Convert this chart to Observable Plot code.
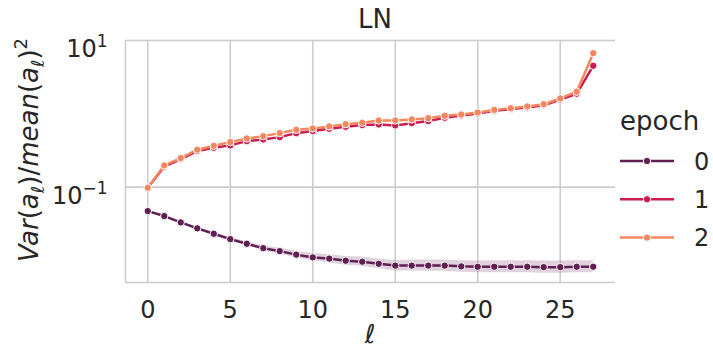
<!DOCTYPE html>
<html><head><meta charset="utf-8">
<script src="https://cdn.jsdelivr.net/npm/d3@7"></script>
<script src="https://cdn.jsdelivr.net/npm/@observablehq/plot@0.6"></script>
<style>
body{margin:0;background:#fff;}
#chart{position:relative;width:713px;height:354px;font-family:"DejaVu Sans",sans-serif;color:#262626;}
</style></head><body><div id="chart"></div>
<script>
const layers = [0,1,2,3,4,5,6,7,8,9,10,11,12,13,14,15,16,17,18,19,20,21,22,23,24,25,26,27];
const epochs = ["0","1","2"];
const colors = ["#611e53","#cb1b4f","#f4875e"];
const epoch0 = [0.0471,0.0403,0.0330,0.0274,0.0231,0.0195,0.0169,0.0147,0.0134,0.0120,0.0110,0.0106,0.0099,0.0096,0.0090,0.0085,0.0085,0.0085,0.0085,0.0083,0.0082,0.0082,0.0082,0.0082,0.0081,0.0081,0.0082,0.0082];
const epoch0Lo = [0.0464,0.0394,0.0320,0.0264,0.0220,0.0184,0.0159,0.0136,0.0122,0.0108,0.0098,0.0093,0.0086,0.0083,0.0077,0.0072,0.0072,0.0071,0.0071,0.0069,0.0068,0.0068,0.0068,0.0068,0.0067,0.0067,0.0068,0.0068];
const epoch0Hi = [0.0478,0.0412,0.0341,0.0284,0.0242,0.0206,0.0180,0.0159,0.0147,0.0133,0.0124,0.0120,0.0113,0.0111,0.0105,0.0100,0.0101,0.0101,0.0101,0.0099,0.0098,0.0099,0.0099,0.0099,0.0098,0.0098,0.0099,0.0099];
const epoch1 = [0.098,0.191,0.241,0.310,0.344,0.371,0.424,0.447,0.481,0.545,0.581,0.625,0.666,0.701,0.716,0.694,0.746,0.795,0.883,0.950,1.01,1.10,1.16,1.22,1.31,1.56,1.88,4.52];
const epoch2 = [0.098,0.198,0.249,0.324,0.366,0.411,0.461,0.496,0.545,0.605,0.631,0.673,0.723,0.755,0.811,0.811,0.838,0.873,0.940,0.979,1.04,1.13,1.19,1.26,1.35,1.62,2.00,6.72];
const xTicks = [0,5,10,15,20,25];
const yTicks = [0.1,10];
const yTickLabels = ["10^\u22121","10^1"];
const xDomain = [-1.35,28.35];
const yDomain = [0.005,10];
const titleText = "LN";
const legendTitle = "epoch";

const series = [epoch0, epoch1, epoch2];
const rows = epochs.flatMap((e,i)=>layers.map((l,j)=>({layer:l, epoch:e, value:series[i][j]})));
const band = layers.map((l,j)=>({layer:l, lo:epoch0Lo[j], hi:epoch0Hi[j]}));
const grid = {stroke:"#cccccc", strokeOpacity:1, strokeWidth:1.6};

const chart = Plot.plot({
  width:713, height:354, marginLeft:125, marginRight:98, marginTop:40, marginBottom:72,
  style:{fontFamily:"DejaVu Sans", fontSize:"24px", color:"#262626", background:"transparent", overflow:"visible"},
  x:{domain:xDomain},
  y:{type:"log", domain:yDomain},
  color:{domain:epochs, range:colors},
  marks:[
    Plot.gridX(xTicks, grid),
    Plot.gridY(yTicks, grid),
    Plot.ruleX([xDomain[0]], grid),
    Plot.ruleY([yDomain[0]], grid),
    Plot.axisX(xTicks, {tickSize:0, tickPadding:18, label:null, fontSize:24}),
    Plot.axisY(yTicks, {tickSize:0, tickPadding:18, label:null, fontSize:24, tickFormat:d=>yTickLabels[yTicks.indexOf(d)]}),
    Plot.areaY(band, {x:"layer", y1:"lo", y2:"hi", fill:colors[0], fillOpacity:0.2}),
    ...epochs.flatMap(e=>{
      const d = rows.filter(r=>r.epoch===e);
      return [
        Plot.line(d, {x:"layer", y:"value", stroke:"epoch", strokeWidth:2.5}),
        Plot.dot(d, {x:"layer", y:"value", fill:"epoch", stroke:"white", strokeWidth:1, r:3.7})
      ];
    })
  ]
});
document.getElementById("chart").appendChild(chart);

const svg = d3.select(chart);
// superscripts for y tick labels
svg.selectAll('g[aria-label="y-axis tick label"] text').each(function(){
  const t = d3.select(this);
  const parts = t.text().split("^");
  t.text(null);
  t.attr("dy", "0.38em");
  t.append("tspan").text(parts[0]);
  t.append("tspan").attr("font-size", 17).attr("dy", -10).text(parts[1]);
});

// title
svg.append("text").attr("x", 375).attr("y", 28).attr("text-anchor","middle")
  .attr("font-size", 26).attr("fill","#262626").text(titleText);

// x label
svg.append("text").attr("x", 370).attr("y", 343).attr("text-anchor","middle")
  .attr("font-size", 26).attr("font-style","italic").attr("fill","#262626").text("\u2113");

// y label
const yl = svg.append("text").attr("transform","rotate(-90)").attr("x",-150).attr("y",38)
  .attr("text-anchor","middle").attr("font-size",26).attr("fill","#262626");
const parts = [
  ["Var","italic",0,26],["(","normal",0,26],["a","italic",0,26],["\u2113","italic",6,18],
  [")","normal",-6,26],["/","normal",0,26],["mean","italic",0,26],["(","normal",0,26],["a","italic",0,26],
  ["\u2113","italic",6,18],[")","normal",-6,26],["2","normal",-11,18]
];
parts.forEach(([s,st,dy,fs])=>yl.append("tspan").attr("font-style",st).attr("dy",dy).attr("font-size",fs).text(s));

// legend
const lg = svg.append("g").attr("text-anchor","start");
lg.append("text").attr("x",620).attr("y",130).attr("font-size",26).attr("fill","#262626").text(legendTitle);
epochs.forEach((e,i)=>{
  const cy = 161 + i*38.3;
  lg.append("line").attr("x1",620).attr("x2",674).attr("y1",cy).attr("y2",cy)
    .attr("stroke",colors[i]).attr("stroke-width",2.5);
  lg.append("circle").attr("cx",647).attr("cy",cy).attr("r",3.7).attr("fill",colors[i]).attr("stroke","white").attr("stroke-width",1);
  lg.append("text").attr("x",694).attr("y",cy+8.7).attr("font-size",24).attr("fill","#262626").text(e);
});
</script>
</body></html>
